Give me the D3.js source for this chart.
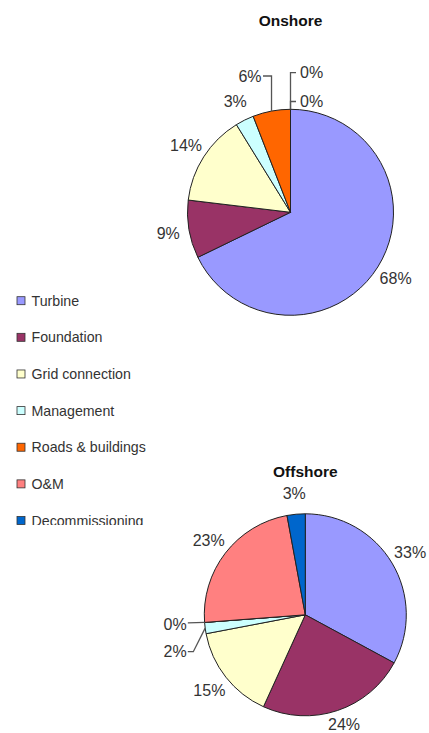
<!DOCTYPE html>
<html>
<head>
<meta charset="utf-8">
<script src="https://cdn.jsdelivr.net/npm/d3@7"></script>
<style>
  html, body { margin: 0; padding: 0; background: #fff; }
  svg { display: block; font-family: "Liberation Sans", Arial, sans-serif; }
</style>
</head>
<body>
<svg id="chart" width="429" height="733"></svg>
<script>
// ---- data ----
const categories = ["Turbine", "Foundation", "Grid connection", "Management", "Roads & buildings", "O&M", "Decommissioning"];
const colors = ["#9999FF", "#993366", "#FFFFCC", "#CCFFFF", "#FF6600", "#FF8080", "#0066CC"];
const onshoreValues = [67.8, 9.1, 14.3, 2.9, 5.9, 0, 0];
const offshoreValues = [32.9, 23.9, 15.2, 1.8, 0, 23.3, 2.9];
const chartTitles = ["Onshore", "Offshore"];

// ---- layout ----
const W = 429, H = 733;
const svg = d3.select("#chart");
const color = d3.scaleOrdinal().domain(categories).range(colors);
const pie = d3.pie().sort(null).value(d => d.v);

const charts = [
  { title: chartTitles[0], values: onshoreValues, cx: 290.5, cy: 212.3, r: 103, titleY: 26,
    leaders: [
      { idx: 4, pts: [[null, -136.3], [-27.5, -136.3]], tx: -29, ty: -136.3, anchor: "end" },
      { idx: 5, pts: [[null, -139.6], [5.5, -139.6]], tx: 9.5, ty: -139.6, anchor: "start" },
      { idx: 6, pts: [[null, -110.8], [5.5, -110.8]], tx: 9.5, ty: -110.8, anchor: "start" }
    ] },
  { title: chartTitles[1], values: offshoreValues, cx: 305.3, cy: 614.8, r: 101, titleY: 477,
    leaders: [
      { idx: 4, pts: [[-117.5, 8]], tx: -118.6, ty: 9.5, anchor: "end" },
      { idx: 3, pts: [[-112, 36.9], [-117.5, 36.9]], tx: -118.6, ty: 36.9, anchor: "end" }
    ] }
];

charts.forEach(c => {
  const data = c.values.map((v, i) => ({ v, cat: categories[i] }));
  const arcs = pie(data);
  const arc = d3.arc().innerRadius(0).outerRadius(c.r);
  const g = svg.append("g").attr("transform", `translate(${c.cx},${c.cy})`);

  svg.append("text")
    .attr("x", c.cx).attr("y", c.titleY)
    .attr("text-anchor", "middle")
    .attr("font-size", 15.5).attr("font-weight", "bold").attr("fill", "#111")
    .text(c.title);

  g.selectAll("path.slice").data(arcs).enter().append("path")
    .attr("class", "slice")
    .attr("d", arc)
    .attr("fill", d => color(d.data.cat))
    .attr("stroke", "#222").attr("stroke-width", 1)
    .attr("stroke-linejoin", "round");

  const leaderIdx = new Set(c.leaders.map(l => l.idx));
  const labelR = c.r + 21;
  const maxY = H - c.cy - 9; // keep labels inside the picture
  g.selectAll("text.lbl").data(arcs.filter(a => !leaderIdx.has(a.index))).enter().append("text")
    .attr("class", "lbl")
    .attr("x", d => labelR * Math.sin((d.startAngle + d.endAngle) / 2))
    .attr("y", d => Math.min(maxY, -labelR * Math.cos((d.startAngle + d.endAngle) / 2)))
    .attr("dy", "0.36em")
    .attr("text-anchor", "middle")
    .attr("font-size", 16).attr("fill", "#333")
    .text(d => Math.round(d.data.v) + "%");

  c.leaders.forEach(l => {
    const a = arcs[l.idx];
    const mid = (a.startAngle + a.endAngle) / 2;
    const ex = c.r * Math.sin(mid), ey = -c.r * Math.cos(mid);
    const pts = [[ex, ey]].concat(l.pts.map(p => [p[0] === null ? ex : p[0], p[1]]));
    g.append("path")
      .attr("d", d3.line()(pts))
      .attr("fill", "none").attr("stroke", "#555").attr("stroke-width", 1.3);
    g.append("text")
      .attr("x", l.tx).attr("y", l.ty).attr("dy", "0.36em")
      .attr("text-anchor", l.anchor)
      .attr("font-size", 16).attr("fill", "#333")
      .text(Math.round(a.data.v) + "%");
  });
});

// ---- legend ----
svg.append("clipPath").attr("id", "legclip")
  .append("rect").attr("x", 0).attr("y", 280).attr("width", 200).attr("height", 245);
const legendY = d3.scalePoint().domain(categories).range([300.7, 520.5]);
const leg = svg.append("g").attr("clip-path", "url(#legclip)");
const items = leg.selectAll("g").data(categories).enter().append("g")
  .attr("transform", d => `translate(0,${legendY(d)})`);
items.append("rect")
  .attr("x", 17).attr("y", -4).attr("width", 8).attr("height", 8)
  .attr("fill", d => color(d)).attr("stroke", "#333").attr("stroke-width", 0.8);
items.append("text")
  .attr("x", 31.5).attr("y", 0).attr("dy", "0.36em")
  .attr("font-size", 14.2).attr("fill", "#333")
  .text(d => d);
</script>
</body>
</html>
